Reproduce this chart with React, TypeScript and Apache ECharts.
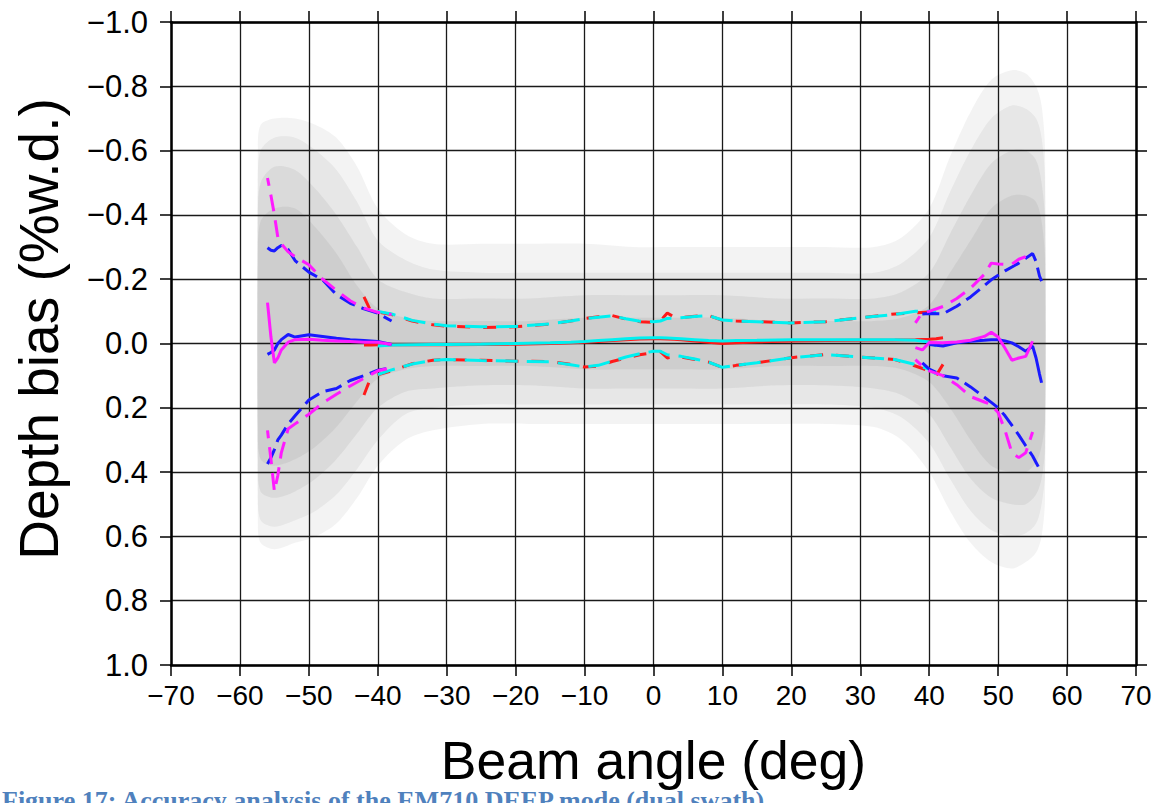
import React, { useEffect, useRef } from "react";
import * as echarts from "echarts";

// ---------- data ----------
// central swath statistics (red and cyan), beam angle in degrees, bias in %w.d.
const redAngles = [-42, -41, -40, -38, -35, -32, -30, -25, -20, -15, -12, -10, -8, -6, -4, -2, 0, 1, 2, 3, 4, 6, 8, 10, 12, 15, 20, 25, 30, 35, 38, 40, 41, 42];
const redUpper = [-0.145, -0.1, -0.098, -0.09, -0.07, -0.058, -0.054, -0.05, -0.052, -0.06, -0.07, -0.078, -0.083, -0.087, -0.076, -0.068, -0.066, -0.07, -0.095, -0.082, -0.08, -0.085, -0.087, -0.072, -0.07, -0.068, -0.064, -0.068, -0.08, -0.092, -0.095, -0.098, -0.097, -0.095];
const redMean = [0.005, 0.005, 0.004, 0.004, 0.004, 0.004, 0.004, 0.003, 0.002, 0.0, -0.002, -0.004, -0.006, -0.009, -0.012, -0.014, -0.015, -0.015, -0.014, -0.013, -0.012, -0.008, -0.004, 0.0, -0.002, -0.005, -0.008, -0.009, -0.01, -0.011, -0.012, -0.013, -0.015, -0.018];
const redLower = [0.16, 0.105, 0.097, 0.085, 0.063, 0.052, 0.05, 0.052, 0.055, 0.056, 0.065, 0.073, 0.07, 0.056, 0.045, 0.035, 0.028, 0.025, 0.045, 0.041, 0.042, 0.05, 0.058, 0.075, 0.068, 0.06, 0.044, 0.034, 0.042, 0.05, 0.07, 0.085, 0.1, 0.065];

const cyanAngles = [-40, -38, -35, -32, -30, -25, -20, -15, -12, -10, -8, -6, -4, -2, 0, 1, 2, 4, 6, 8, 10, 12, 15, 20, 25, 30, 35, 38, 40, 41];
const cyanUpper = [-0.1, -0.092, -0.072, -0.06, -0.055, -0.052, -0.053, -0.061, -0.07, -0.077, -0.082, -0.086, -0.077, -0.069, -0.068, -0.07, -0.078, -0.08, -0.084, -0.087, -0.073, -0.07, -0.068, -0.064, -0.068, -0.08, -0.09, -0.1, -0.1, -0.098];
const cyanMean = [0.008, 0.005, 0.004, 0.003, 0.003, 0.002, 0.0, -0.002, -0.004, -0.006, -0.009, -0.012, -0.015, -0.017, -0.018, -0.018, -0.017, -0.015, -0.012, -0.009, -0.008, -0.009, -0.01, -0.012, -0.012, -0.012, -0.012, -0.01, -0.005, 0.008];
const cyanLower = [0.097, 0.082, 0.064, 0.052, 0.05, 0.053, 0.055, 0.057, 0.066, 0.073, 0.068, 0.055, 0.042, 0.032, 0.024, 0.024, 0.035, 0.04, 0.048, 0.058, 0.074, 0.068, 0.06, 0.044, 0.035, 0.042, 0.05, 0.065, 0.08, 0.095];

// outer beams, port side (blue and magenta)
const leftAngles = [-56, -55.5, -55, -54.5, -54, -53, -52, -50, -48, -46, -44, -42, -40, -38];
const blueLeftUpper = [-0.298, -0.29, -0.288, -0.298, -0.305, -0.292, -0.258, -0.222, -0.198, -0.152, -0.125, -0.108, -0.094, -0.07];
const blueLeftMean = [0.034, 0.028, 0.02, 0.0, -0.012, -0.028, -0.02, -0.027, -0.022, -0.016, -0.012, -0.009, -0.006, 0.003];
const blueLeftLower = [0.375, 0.355, 0.33, 0.3, 0.285, 0.25, 0.225, 0.176, 0.15, 0.14, 0.115, 0.1, 0.083, 0.075];
const magLeftUpper = [-0.515, -0.46, -0.4, -0.33, -0.31, -0.285, -0.27, -0.245, -0.2, -0.165, -0.133, -0.11, -0.097, -0.09];
const magLeftMean = [-0.127, -0.02, 0.06, 0.045, 0.02, -0.004, -0.012, -0.013, -0.01, -0.008, -0.006, -0.004, -0.004, 0.003];
const magLeftLower = [0.27, 0.36, 0.46, 0.41, 0.34, 0.265, 0.25, 0.22, 0.185, 0.158, 0.132, 0.108, 0.085, 0.075];

// outer beams, starboard side (blue and magenta)
const rightAngles = [38, 39, 40, 42, 44, 46, 48, 49, 50, 51, 52, 53, 54, 55, 55.5, 56, 56.3];
const blueRightUpper = [null, -0.092, -0.093, -0.092, -0.116, -0.145, -0.18, -0.198, -0.212, -0.226, -0.238, -0.25, -0.265, -0.28, -0.255, -0.21, -0.194];
const blueRightMean = [null, null, 0.003, 0.008, -0.002, -0.007, -0.01, -0.012, -0.012, -0.008, -0.002, 0.01, 0.024, 0.008, 0.045, 0.095, 0.122];
const blueRightLower = [null, 0.06, 0.08, 0.1, 0.107, 0.135, 0.167, 0.183, 0.2, 0.225, 0.255, 0.285, 0.318, 0.35, 0.37, 0.39, 0.4];
const magRightUpper = [-0.064, -0.096, -0.1, -0.115, -0.14, -0.172, -0.215, -0.25, -0.247, -0.246, -0.247, -0.262, -0.27, null, null, null, null];
const magRightMean = [0.013, 0.02, -0.003, -0.002, -0.005, -0.01, -0.022, -0.035, -0.02, 0.015, 0.052, 0.045, 0.04, -0.007, null, null, null];
const magRightLower = [0.05, 0.07, 0.085, 0.1, 0.128, 0.165, 0.182, 0.19, 0.215, 0.27, 0.34, 0.355, 0.34, 0.275, null, null, null];

// grey sounding cloud envelopes (density levels, outermost first)
const cloudAngles = [-57.4, -57, -55, -52, -49, -46, -43, -40, -36, -32, -25, -18, -10, -3, 3, 10, 18, 25, 32, 36, 40, 43, 46, 49, 52, 54, 55.5, 56.3, 56.8];
const cloud1Top = [-0.6, -0.68, -0.7, -0.7, -0.68, -0.64, -0.55, -0.42, -0.34, -0.31, -0.31, -0.31, -0.31, -0.3, -0.3, -0.3, -0.3, -0.3, -0.3, -0.33, -0.42, -0.58, -0.72, -0.82, -0.85, -0.84, -0.8, -0.74, -0.6];
const cloud1Bottom = [0.56, 0.62, 0.64, 0.62, 0.6, 0.56, 0.48, 0.38, 0.3, 0.27, 0.25, 0.25, 0.25, 0.25, 0.25, 0.25, 0.25, 0.25, 0.26, 0.3, 0.4, 0.52, 0.62, 0.68, 0.7, 0.68, 0.65, 0.6, 0.48];
const cloud2Top = [-0.5, -0.6, -0.64, -0.64, -0.6, -0.54, -0.44, -0.32, -0.26, -0.23, -0.22, -0.22, -0.22, -0.22, -0.22, -0.22, -0.22, -0.22, -0.22, -0.25, -0.33, -0.47, -0.6, -0.7, -0.74, -0.73, -0.7, -0.64, -0.5];
const cloud2Bottom = [0.46, 0.55, 0.57, 0.55, 0.52, 0.47, 0.39, 0.3, 0.22, 0.2, 0.19, 0.19, 0.19, 0.19, 0.19, 0.19, 0.19, 0.19, 0.2, 0.23, 0.31, 0.42, 0.52, 0.58, 0.6, 0.59, 0.56, 0.5, 0.4];
const cloud3Top = [-0.38, -0.5, -0.55, -0.54, -0.48, -0.4, -0.3, -0.2, -0.16, -0.14, -0.14, -0.14, -0.15, -0.15, -0.15, -0.15, -0.14, -0.14, -0.14, -0.16, -0.22, -0.34, -0.46, -0.56, -0.6, -0.6, -0.57, -0.5, -0.38];
const cloud3Bottom = [0.36, 0.46, 0.48, 0.46, 0.42, 0.36, 0.28, 0.2, 0.15, 0.14, 0.13, 0.13, 0.14, 0.14, 0.14, 0.14, 0.13, 0.13, 0.14, 0.16, 0.22, 0.32, 0.42, 0.48, 0.5, 0.5, 0.47, 0.42, 0.32];
const cloud4Top = [-0.26, -0.38, -0.42, -0.42, -0.36, -0.28, -0.18, -0.11, -0.08, -0.07, -0.07, -0.07, -0.08, -0.08, -0.08, -0.08, -0.07, -0.07, -0.07, -0.08, -0.12, -0.22, -0.32, -0.42, -0.46, -0.46, -0.44, -0.38, -0.26];
const cloud4Bottom = [0.26, 0.36, 0.38, 0.36, 0.32, 0.26, 0.18, 0.11, 0.08, 0.07, 0.07, 0.07, 0.08, 0.08, 0.08, 0.08, 0.07, 0.07, 0.07, 0.08, 0.12, 0.2, 0.3, 0.38, 0.4, 0.4, 0.37, 0.32, 0.24];

const xTicks = { min: -70, max: 70, step: 10 };
const yTicks = { min: -1, max: 1, step: 0.2 };

const xTitle = "Beam angle (deg)";
const yTitle = "Depth bias (%w.d.)";
const caption = "Figure 17: Accuracy analysis of the EM710 DEEP mode (dual swath)";

// ---------- chart ----------
const FONT = '"Liberation Sans", Arial, Helvetica, sans-serif';
const minus = (s: string) => s.replace("-", "\u2212");
const fmt = (v: number, d: number) => (Math.abs(v) < 1e-9 ? (0).toFixed(d) : minus(v.toFixed(d)));

const cloudLayers = [
  { top: cloud1Top, bottom: cloud1Bottom, opacity: 0.08 },
  { top: cloud2Top, bottom: cloud2Bottom, opacity: 0.09 },
  { top: cloud3Top, bottom: cloud3Bottom, opacity: 0.1 },
  { top: cloud4Top, bottom: cloud4Bottom, opacity: 0.1 },
];

function pts(xs: number[], ys: (number | null)[]) {
  return xs.map((x, i) => (ys[i] === null || ys[i] === undefined ? [x, "-"] : [x, ys[i]]));
}

function line(name: string, xs: number[], ys: (number | null)[], color: string, type: any, z: number, dashOffset = 0) {
  return {
    type: "line",
    name,
    data: pts(xs, ys),
    symbol: "none",
    showSymbol: false,
    connectNulls: false,
    silent: true,
    z,
    lineStyle: { color, width: 3, type, dashOffset, cap: "butt" },
  };
}

export default function App() {
  const ref = useRef<HTMLDivElement>(null);
  useEffect(() => {
    if (!ref.current) return;
    const chart = echarts.init(ref.current, undefined, { renderer: "svg" });
    const axisLine = { show: true, onZero: false, lineStyle: { color: "#000", width: 2.5 } };
    const axisTick = { show: true, inside: false, length: 11, lineStyle: { color: "#000", width: 1.5 } };
    const split = { show: true, lineStyle: { color: "#1a1a1a", width: 1.3 } };

    const blueDash = [17, 7];
    const magDash = [17, 9];

    const option: any = {
      animation: false,
      backgroundColor: "#fff",
      grid: { left: 171, right: 28, top: 22, bottom: 138, containLabel: false },
      xAxis: [
        {
          type: "value",
          position: "bottom",
          min: xTicks.min,
          max: xTicks.max,
          interval: xTicks.step,
          axisLine,
          axisTick,
          splitLine: split,
          axisLabel: { color: "#000", fontSize: 28, fontFamily: FONT, margin: 16, formatter: (v: number) => fmt(v, 0) },
          name: xTitle,
          nameLocation: "middle",
          nameGap: 68,
          nameTextStyle: { color: "#000", fontSize: 53.5, fontFamily: FONT },
        },
        {
          type: "value",
          position: "top",
          min: xTicks.min,
          max: xTicks.max,
          interval: xTicks.step,
          axisLine,
          axisTick,
          splitLine: { show: false },
          axisLabel: { show: false },
        },
      ],
      yAxis: [
        {
          type: "value",
          position: "left",
          inverse: true,
          min: yTicks.min,
          max: yTicks.max,
          interval: yTicks.step,
          axisLine,
          axisTick,
          splitLine: split,
          axisLabel: { color: "#000", fontSize: 31, fontFamily: FONT, margin: 23, formatter: (v: number) => fmt(v, 1) },
        },
        {
          type: "value",
          position: "right",
          inverse: true,
          min: yTicks.min,
          max: yTicks.max,
          interval: yTicks.step,
          axisLine,
          axisTick,
          splitLine: { show: false },
          axisLabel: { show: false },
        },
      ],
      graphic: [
        {
          type: "text",
          x: 39,
          y: 329,
          rotation: Math.PI / 2,
          silent: true,
          style: {
            text: yTitle,
            font: `55px ${FONT}`,
            fill: "#000",
            align: "center",
            verticalAlign: "middle",
          },
        },
        {
          type: "text",
          left: 2,
          top: 787,
          silent: true,
          style: { text: caption, font: 'bold 26px "Liberation Serif", serif', fill: "#4F81BD" },
        },
      ],
      series: [
        {
          type: "custom",
          name: "soundings",
          z: -1,
          silent: true,
          clip: true,
          data: cloudLayers.map((_, i) => [0, i]),
          renderItem: (params: any, api: any) => {
            const layer = cloudLayers[params.dataIndex];
            const p: number[][] = [];
            cloudAngles.forEach((a, i) => p.push(api.coord([a, layer.top[i]])));
            for (let i = cloudAngles.length - 1; i >= 0; i--) p.push(api.coord([cloudAngles[i], layer.bottom[i]]));
            return {
              type: "polygon",
              shape: { points: p, smooth: 0.3 },
              style: { fill: "#6a6a6a", opacity: layer.opacity },
            };
          },
        },
        line("red upper", redAngles, redUpper, "#ff1a1a", [13, 13], 3),
        line("red mean", redAngles, redMean, "#ff1a1a", "solid", 3),
        line("red lower", redAngles, redLower, "#ff1a1a", [13, 13], 3),
        line("cyan upper", cyanAngles, cyanUpper, "#00f0f0", [22, 9], 4, 4),
        line("cyan mean", cyanAngles, cyanMean, "#00f0f0", "solid", 4),
        line("cyan lower", cyanAngles, cyanLower, "#00f0f0", [22, 9], 4, 4),
        line("blue upper port", leftAngles, blueLeftUpper, "#1a1aff", blueDash, 5),
        line("blue mean port", leftAngles, blueLeftMean, "#1a1aff", "solid", 5),
        line("blue lower port", leftAngles, blueLeftLower, "#1a1aff", blueDash, 5),
        line("blue upper stbd", rightAngles, blueRightUpper, "#1a1aff", blueDash, 5),
        line("blue mean stbd", rightAngles, blueRightMean, "#1a1aff", "solid", 5),
        line("blue lower stbd", rightAngles, blueRightLower, "#1a1aff", blueDash, 5),
        line("magenta upper port", leftAngles, magLeftUpper, "#ff1aff", magDash, 6, 9),
        line("magenta mean port", leftAngles, magLeftMean, "#ff1aff", "solid", 6),
        line("magenta lower port", leftAngles, magLeftLower, "#ff1aff", magDash, 6, 9),
        line("magenta upper stbd", rightAngles, magRightUpper, "#ff1aff", magDash, 6, 9),
        line("magenta mean stbd", rightAngles, magRightMean, "#ff1aff", "solid", 6),
        line("magenta lower stbd", rightAngles, magRightLower, "#ff1aff", magDash, 6, 9),
      ],
    };
    chart.setOption(option);
    return () => chart.dispose();
  }, []);
  return (
    <div
      ref={ref}
      style={{ position: "absolute", left: 0, top: 0, width: 1164, height: 803, background: "#fff", overflow: "hidden" }}
    />
  );
}
